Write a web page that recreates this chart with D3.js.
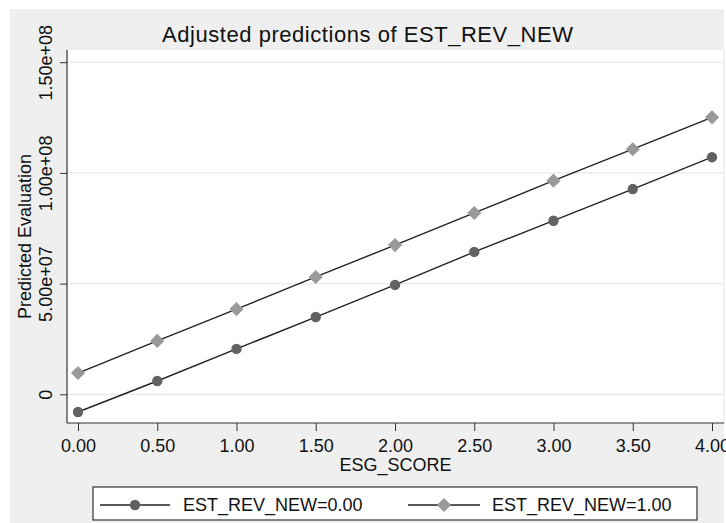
<!DOCTYPE html>
<html>
<head>
<meta charset="utf-8">
<script src="https://cdn.jsdelivr.net/npm/d3@7"></script>
<style>
  html, body { margin: 0; padding: 0; background: #ffffff; }
  svg { display: block; font-family: "Liberation Sans", Arial, Helvetica, sans-serif; }
</style>
</head>
<body>
<svg id="chart" width="726" height="523"></svg>
<script>
// ---- Data ----
const esgScore = [0.00, 0.50, 1.00, 1.50, 2.00, 2.50, 3.00, 3.50, 4.00];
const predRev0 = [-8.0e6, 6.0e6, 2.05e7, 3.49e7, 4.94e7, 6.43e7, 7.84e7, 9.27e7, 1.071e8];
const predRev1 = [9.6e6, 2.41e7, 3.85e7, 5.30e7, 6.74e7, 8.19e7, 9.65e7, 1.107e8, 1.251e8];
const xTickValues = [0, 0.5, 1, 1.5, 2, 2.5, 3, 3.5, 4];
const yTickValues = [0, 5e7, 1e8, 1.5e8];
const yTickLabels = ["0", "5.00e+07", "1.00e+08", "1.50e+08"];
const seriesNames = ["EST_REV_NEW=0.00", "EST_REV_NEW=1.00"];
const titleText = "Adjusted predictions of EST_REV_NEW";
const xTitle = "ESG_SCORE";
const yTitle = "Predicted Evaluation";

// ---- Layout ----
const svg = d3.select("#chart");
const W = 726, H = 523;
const plot = { left: 67, right: 724, top: 50, bottom: 423 };

// background
svg.append("rect").attr("x", 0).attr("y", 0).attr("width", W).attr("height", H).attr("fill", "#ffffff");
svg.append("rect").attr("x", 10).attr("y", 9).attr("width", 714).attr("height", 514).attr("fill", "#efefef");
svg.append("rect").attr("x", plot.left).attr("y", plot.top)
  .attr("width", plot.right - plot.left).attr("height", plot.bottom - plot.top)
  .attr("fill", "#ffffff");
svg.append("line").attr("x1", plot.right).attr("x2", plot.right)
  .attr("y1", plot.top).attr("y2", plot.bottom)
  .attr("stroke", "#e4e4e4").attr("stroke-width", 1);

// scales
const x = d3.scaleLinear().domain([0, 4]).range([78, 712]);
const y = d3.scaleLinear().domain([0, 1.5e8]).range([394.3, 62.2]);

// gridlines
svg.append("g").selectAll("line").data(yTickValues).join("line")
  .attr("x1", plot.left).attr("x2", plot.right)
  .attr("y1", d => y(d)).attr("y2", d => y(d))
  .attr("stroke", "#eaeaea").attr("stroke-width", 1.2);

// y axis
const yAxis = d3.axisLeft(y).tickValues(yTickValues)
  .tickFormat((d, i) => yTickLabels[i]).tickSize(7).tickPadding(7);
const gy = svg.append("g").attr("transform", `translate(${plot.left},0)`).call(yAxis);
gy.select(".domain").remove();
gy.selectAll(".tick line").attr("stroke", "#333").attr("stroke-width", 1);
gy.selectAll(".tick text")
  .attr("font-size", 18).attr("fill", "#111")
  .attr("font-family", "Liberation Sans, Arial, sans-serif")
  .attr("transform", "rotate(-90)")
  .attr("x", 0).attr("y", -15)
  .attr("dy", "0")
  .attr("text-anchor", "middle");
svg.append("line").attr("x1", plot.left).attr("x2", plot.left)
  .attr("y1", plot.top).attr("y2", plot.bottom)
  .attr("stroke", "#333").attr("stroke-width", 1.2);

// x axis
const xAxis = d3.axisBottom(x).tickValues(xTickValues)
  .tickFormat(d3.format(".2f")).tickSize(8).tickPadding(6);
const gx = svg.append("g").attr("transform", `translate(0,${plot.bottom})`).call(xAxis);
gx.select(".domain").remove();
gx.selectAll(".tick line").attr("stroke", "#333").attr("stroke-width", 1);
gx.selectAll(".tick text").attr("font-size", 18).attr("fill", "#111")
  .attr("font-family", "Liberation Sans, Arial, sans-serif")
  .attr("dy", "0").attr("y", 29);
svg.append("line").attr("x1", plot.left).attr("x2", plot.right)
  .attr("y1", plot.bottom).attr("y2", plot.bottom)
  .attr("stroke", "#333").attr("stroke-width", 1.2);

// titles
svg.append("text").attr("x", 162).attr("y", 42).attr("text-anchor", "start")
  .attr("font-size", 22).attr("fill", "#111")
  .attr("textLength", 411).attr("lengthAdjust", "spacing")
  .text(titleText);
svg.append("text").attr("x", (plot.left + plot.right) / 2).attr("y", 471)
  .attr("text-anchor", "middle").attr("font-size", 18).attr("fill", "#111").text(xTitle);
svg.append("text")
  .attr("transform", `translate(31,${(plot.top + plot.bottom) / 2}) rotate(-90)`)
  .attr("text-anchor", "middle").attr("font-size", 18).attr("fill", "#111").text(yTitle);

// series
const series = [
  { values: predRev0, color: "#616161", shape: "circle", name: seriesNames[0] },
  { values: predRev1, color: "#999999", shape: "diamond", name: seriesNames[1] }
];
const line = d3.line().x(d => x(d[0])).y(d => y(d[1]));
const circleSym = d3.symbol().type(d3.symbolCircle).size(Math.PI * 5.2 * 5.2);
const diamondSym = d3.symbol().type(d3.symbolSquare).size(10 * 10);

function drawMarker(g, shape, color) {
  if (shape === "circle") {
    g.append("path").attr("d", circleSym()).attr("fill", color);
  } else {
    g.append("path").attr("d", diamondSym()).attr("transform", "rotate(45)").attr("fill", color);
  }
}

series.forEach(s => {
  const pts = esgScore.map((v, i) => [v, s.values[i]]);
  svg.append("path").datum(pts).attr("d", line)
    .attr("fill", "none").attr("stroke", "#222").attr("stroke-width", 1.4);
  pts.forEach(p => {
    const g = svg.append("g").attr("transform", `translate(${x(p[0])},${y(p[1])})`);
    drawMarker(g, s.shape, s.color);
  });
});

// legend
svg.append("rect").attr("x", 93).attr("y", 487).attr("width", 604).attr("height", 33)
  .attr("fill", "#ffffff").attr("stroke", "#333").attr("stroke-width", 1.2);
const legendPos = [ { x0: 100, x1: 170, tx: 183 }, { x0: 408, x1: 480, tx: 492 } ];
series.forEach((s, i) => {
  const lp = legendPos[i];
  const ly = 505;
  svg.append("line").attr("x1", lp.x0).attr("x2", lp.x1).attr("y1", ly).attr("y2", ly)
    .attr("stroke", "#222").attr("stroke-width", 1.4);
  const g = svg.append("g").attr("transform", `translate(${(lp.x0 + lp.x1) / 2},${ly})`);
  drawMarker(g, s.shape, s.color);
  svg.append("text").attr("x", lp.tx).attr("y", 511).attr("font-size", 18)
    .attr("fill", "#111").text(s.name);
});
</script>
</body>
</html>
